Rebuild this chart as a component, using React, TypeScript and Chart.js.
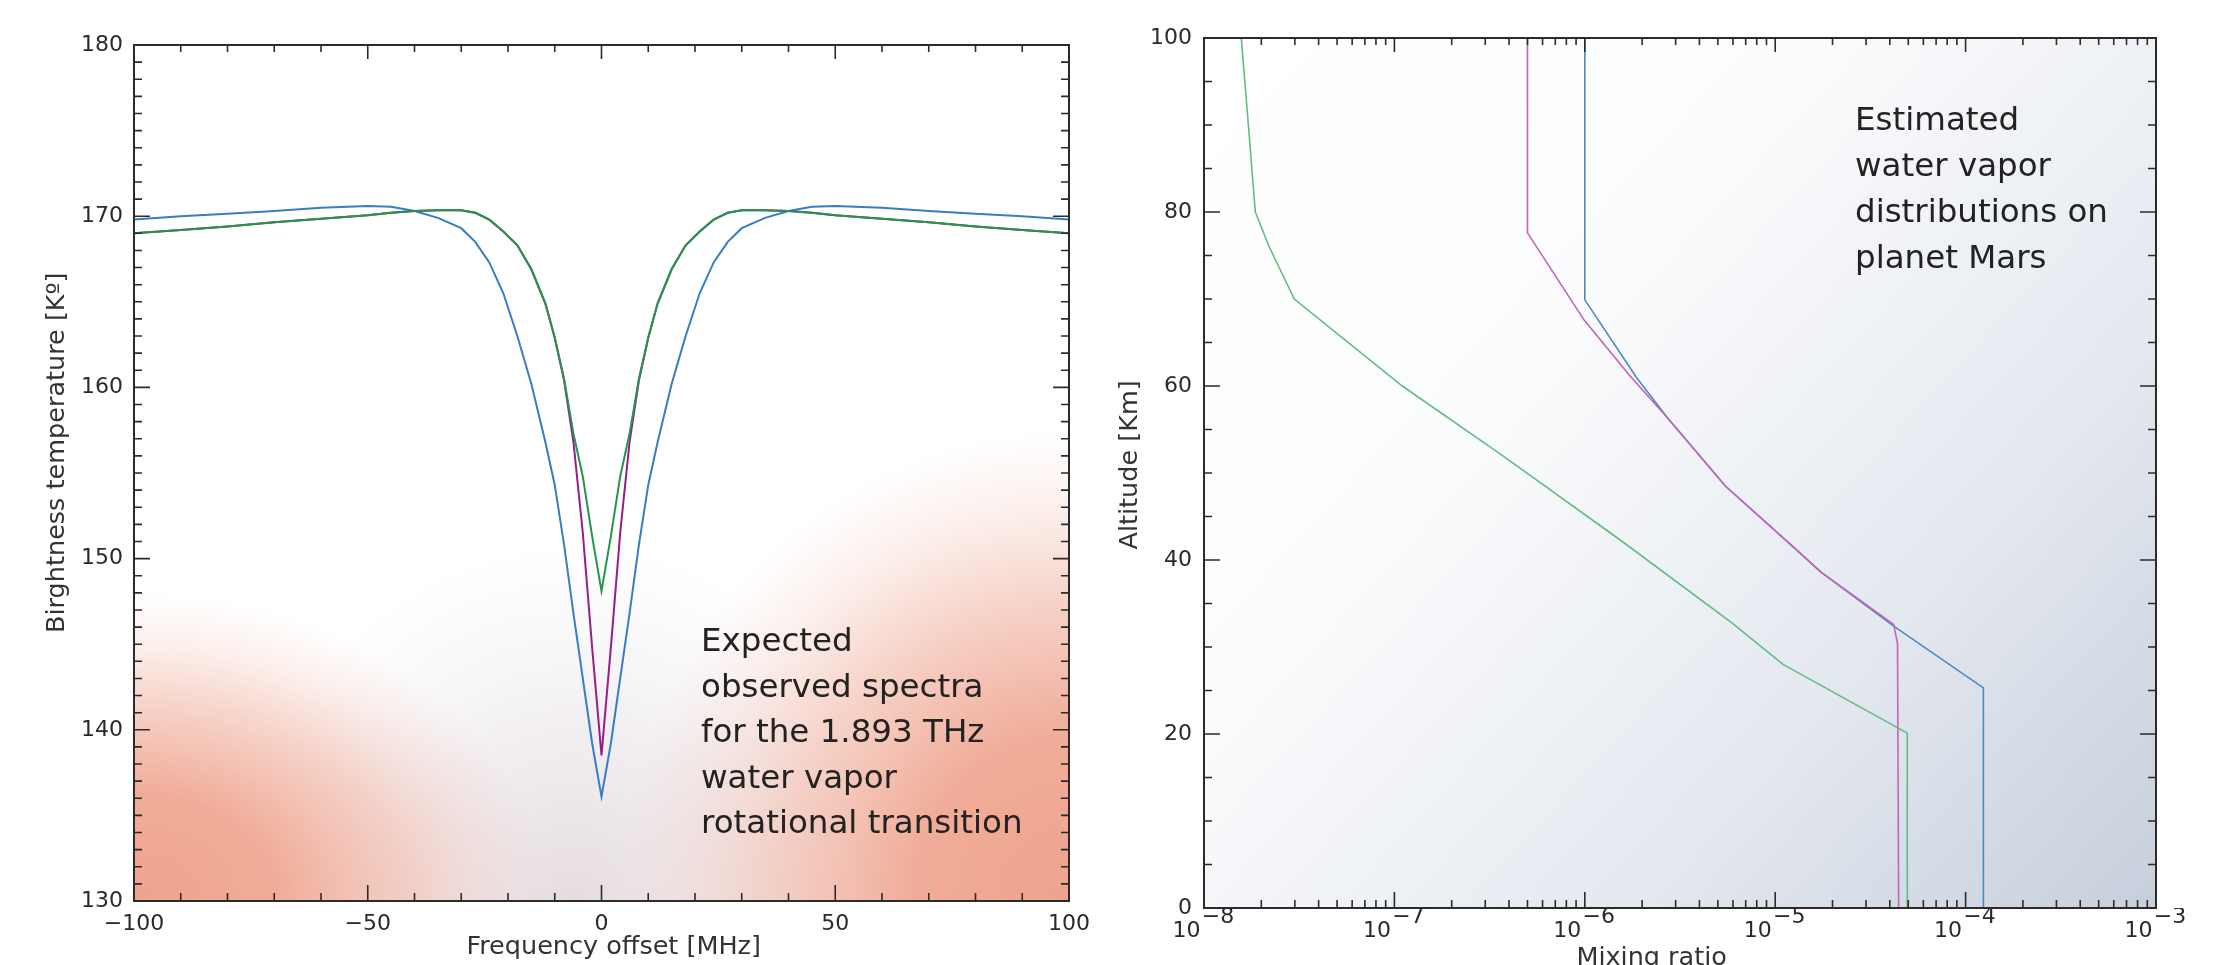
import React, { useEffect, useRef } from 'react';
import { Chart, registerables } from 'chart.js';

Chart.register(...registerables);

// ---------- Left panel: expected spectra ----------
const freqOffset = [-100, -90, -80, -70, -60, -50, -45, -40, -35, -30, -27, -24, -21, -18, -15, -12, -10, -8, -6, -4, -2, 0,
  2, 4, 6, 8, 10, 12, 15, 18, 21, 24, 27, 30, 35, 40, 45, 50, 60, 70, 80, 90, 100];
const tempBlue = [169.8, 170.0, 170.15, 170.3, 170.5, 170.6, 170.55, 170.3, 169.9, 169.3, 168.5, 167.3, 165.5, 163.0, 160.2, 156.8, 154.3, 150.8, 146.8, 143.0, 139.2, 136.1,
  139.2, 143.0, 146.8, 150.8, 154.3, 156.8, 160.2, 163.0, 165.5, 167.3, 168.5, 169.3, 169.9, 170.3, 170.55, 170.6, 170.5, 170.3, 170.15, 170.0, 169.8];
const tempMagenta = [169.0, 169.2, 169.4, 169.65, 169.85, 170.05, 170.2, 170.3, 170.35, 170.35, 170.2, 169.8, 169.1, 168.3, 166.9, 164.9, 162.9, 160.4, 156.8, 151.5, 144.8, 138.5,
  144.8, 151.5, 156.8, 160.4, 162.9, 164.9, 166.9, 168.3, 169.1, 169.8, 170.2, 170.35, 170.35, 170.3, 170.2, 170.05, 169.85, 169.65, 169.4, 169.2, 169.0];
const tempGreen = [169.0, 169.2, 169.4, 169.65, 169.85, 170.05, 170.2, 170.3, 170.35, 170.35, 170.2, 169.8, 169.1, 168.3, 166.9, 164.9, 162.9, 160.5, 157.3, 154.8, 151.3, 148.1,
  151.3, 154.8, 157.3, 160.5, 162.9, 164.9, 166.9, 168.3, 169.1, 169.8, 170.2, 170.35, 170.35, 170.3, 170.2, 170.05, 169.85, 169.65, 169.4, 169.2, 169.0];

const freqLabelValues = [-100, -50, 0, 50, 100];
const freqLabelText = ['−100', '−50', '0', '50', '100'];
const tempLabelValues = [130, 140, 150, 160, 170, 180];
const tempLabelText = ['130', '140', '150', '160', '170', '180'];

// ---------- Right panel: water vapor profiles ----------
const altGreen = [100, 90, 80, 76, 70, 60, 52, 42.1, 32.8, 28, 20.1, 0];
const mixGreen = [1.57e-8, 1.71e-8, 1.86e-8, 2.2e-8, 2.98e-8, 1.1e-7, 3.7e-7, 1.58e-6, 5.9e-6, 1.1e-5, 4.94e-5, 4.94e-5];
const altMagenta = [100, 77.6, 67.6, 61.2, 56.3, 48.5, 41.4, 38.6, 32.6, 30.4, 0];
const mixMagenta = [5.0e-7, 5.0e-7, 9.9e-7, 1.72e-6, 2.73e-6, 5.47e-6, 1.26e-5, 1.74e-5, 4.19e-5, 4.39e-5, 4.45e-5];
const altBlue = [100, 69.9, 60.9, 56.3, 48.5, 41.4, 38.6, 32.4, 25.3, 0];
const mixBlue = [1.0e-6, 1.0e-6, 1.88e-6, 2.73e-6, 5.47e-6, 1.26e-5, 1.74e-5, 4.19e-5, 1.24e-4, 1.24e-4];

const altLabelValues = [0, 20, 40, 60, 80, 100];
const altLabelText = ['0', '20', '40', '60', '80', '100'];
const mixDecades = [1e-8, 1e-7, 1e-6, 1e-5, 1e-4, 1e-3];
const mixDecadeExponent = ['−8', '−7', '−6', '−5', '−4', '−3'];

const annotationLeft = ['Expected', 'observed spectra', 'for the 1.893 THz', 'water vapor', 'rotational transition'];
const annotationRight = ['Estimated', 'water vapor', 'distributions on', 'planet Mars'];

const FONT = 'DejaVu Sans';
const TICK_COLOR = '#2a2a2a';

function linearTicks(min: number, max: number, step: number) {
  const out: { value: number }[] = [];
  for (let i = 0; min + i * step <= max + 1e-9; i++) out.push({ value: Math.round((min + i * step) * 1e6) / 1e6 });
  return out;
}

function logTicks() {
  const out: { value: number }[] = [];
  for (let d = 0; d < mixDecades.length - 1; d++) {
    for (let m = 1; m <= 9; m++) out.push({ value: m * mixDecades[d] });
  }
  out.push({ value: mixDecades[mixDecades.length - 1] });
  return out;
}

function labelFor(values: number[], texts: string[], v: number) {
  const i = values.findIndex((x) => Math.abs(x - v) < 1e-6);
  return i >= 0 ? texts[i] : '';
}

function makeFrame(isMajorX: (v: number) => boolean, isMajorY: (v: number) => boolean) {
  return {
    id: 'frameTicks',
    afterDatasetsDraw(chart: any) {
      const { ctx, chartArea: a, scales } = chart;
      const xs = scales.x;
      const ys = scales.y;
      ctx.save();
      ctx.strokeStyle = '#2b2b2b';
      ctx.lineWidth = 1.6;
      ctx.beginPath();
      for (const t of xs.ticks) {
        const p = xs.getPixelForValue(t.value);
        const major = isMajorX(t.value);
        const lb = major ? 16 : 8;
        const lt = major ? 14 : 7;
        ctx.moveTo(p, a.bottom);
        ctx.lineTo(p, a.bottom - lb);
        ctx.moveTo(p, a.top);
        ctx.lineTo(p, a.top + lt);
      }
      for (const t of ys.ticks) {
        const p = ys.getPixelForValue(t.value);
        const len = isMajorY(t.value) ? 16 : 8;
        ctx.moveTo(a.left, p);
        ctx.lineTo(a.left + len, p);
        ctx.moveTo(a.right, p);
        ctx.lineTo(a.right - len, p);
      }
      ctx.stroke();
      ctx.lineWidth = 2;
      ctx.strokeRect(a.left, a.top, a.right - a.left, a.bottom - a.top);
      ctx.restore();
    },
  };
}

function ellipseGlow(ctx: any, cx: number, cy: number, rx: number, ry: number, stops: [number, string][]) {
  ctx.save();
  ctx.translate(cx, cy);
  ctx.scale(rx, ry);
  const g = ctx.createRadialGradient(0, 0, 0, 0, 0, 1);
  for (const [o, c] of stops) g.addColorStop(o, c);
  ctx.fillStyle = g;
  ctx.fillRect(-1.2, -1.2, 2.4, 2.4);
  ctx.restore();
}

const peachStops: [number, string][] = [
  [0, 'rgba(239,163,141,1)'],
  [0.35, 'rgba(239,165,144,0.92)'],
  [0.65, 'rgba(239,170,150,0.5)'],
  [0.85, 'rgba(240,178,162,0.18)'],
  [1, 'rgba(240,182,168,0)'],
];

const leftBackground = {
  id: 'leftBackground',
  beforeDraw(chart: any) {
    const { ctx, chartArea } = chart;
    const { left, top, right, bottom } = chartArea;
    const width = right - left;
    const height = bottom - top;
    ctx.save();
    ctx.beginPath();
    ctx.rect(left, top, width, height);
    ctx.clip();
    ctx.fillStyle = '#ffffff';
    ctx.fillRect(left, top, width, height);
    // greyish tint around the bottom centre
    ellipseGlow(ctx, left + 0.47 * width, bottom, 0.36 * width, 0.42 * height, [
      [0, 'rgba(228,218,222,0.95)'],
      [0.5, 'rgba(234,228,232,0.6)'],
      [1, 'rgba(240,238,242,0)'],
    ]);
    // peach glow in the bottom-left corner
    ellipseGlow(ctx, left, bottom, 0.44 * width, 0.36 * height, peachStops);
    // peach glow in the bottom-right corner (reaches higher)
    ellipseGlow(ctx, right, bottom, 0.48 * width, 0.55 * height, peachStops);
    ctx.restore();
  },
};

const rightBackground = {
  id: 'rightBackground',
  beforeDraw(chart: any) {
    const { ctx, chartArea: a } = chart;
    ctx.save();
    const g = ctx.createLinearGradient(a.left, a.top, a.right, a.bottom);
    g.addColorStop(0, '#ffffff');
    g.addColorStop(0.35, '#fbfcfd');
    g.addColorStop(0.7, '#e4e8ef');
    g.addColorStop(1, '#c6cfdc');
    ctx.fillStyle = g;
    ctx.fillRect(a.left, a.top, a.right - a.left, a.bottom - a.top);
    ctx.restore();
  },
};

function lineDataset(label: string, xs: number[], ys: number[], color: string, width: number) {
  return {
    label,
    data: xs.map((x, i) => ({ x, y: ys[i] })),
    showLine: true,
    borderColor: color,
    backgroundColor: color,
    borderWidth: width,
    pointRadius: 0,
    fill: false,
    tension: 0,
  };
}

export default function App() {
  const leftRef = useRef<HTMLCanvasElement>(null);
  const rightRef = useRef<HTMLCanvasElement>(null);

  useEffect(() => {
    const tickFont = { family: FONT, size: 22 };
    const titleFont = { family: FONT, size: 25.5 };

    const left = new Chart(leftRef.current as HTMLCanvasElement, {
      type: 'scatter',
      data: {
        datasets: [
          lineDataset('green', freqOffset, tempGreen, 'rgb(35,150,75)', 2),
          lineDataset('magenta', freqOffset, tempMagenta, 'rgb(150,30,135)', 2),
          lineDataset('blue', freqOffset, tempBlue, 'rgb(55,125,195)', 2),
        ],
      },
      options: {
        responsive: false,
        animation: false,
        layout: { padding: { left: 0, top: 45, right: 31, bottom: 0 } },
        plugins: { legend: { display: false }, tooltip: { enabled: false } },
        scales: {
          x: {
            type: 'linear',
            position: 'bottom',
            min: -100,
            max: 100,
            afterBuildTicks: (s: any) => { s.ticks = linearTicks(-100, 100, 10); },
            afterFit: (s: any) => { s.height = 64; },
            grid: { display: false, drawTicks: false },
            border: { display: false },
            ticks: {
              autoSkip: false, maxRotation: 0, minRotation: 0, padding: 10, color: TICK_COLOR, font: tickFont,
              callback: (v: any) => labelFor(freqLabelValues, freqLabelText, Number(v)),
            },
            title: { display: true, text: '   Frequency offset [MHz]', color: '#333', font: titleFont, padding: { top: 0, bottom: 2.7 } },
          },
          y: {
            type: 'linear',
            position: 'left',
            min: 130,
            max: 180,
            afterBuildTicks: (s: any) => { s.ticks = linearTicks(130, 180, 1); },
            afterFit: (s: any) => { s.width = 134; },
            grid: { display: false, drawTicks: false },
            border: { display: false },
            ticks: {
              autoSkip: false, padding: 11, color: TICK_COLOR, font: tickFont,
              callback: (v: any) => labelFor(tempLabelValues, tempLabelText, Number(v)),
            },
            title: { display: true, text: '     Birghtness temperature [Kº]', color: '#333', font: titleFont, padding: { top: 41.7, bottom: 0 } },
          },
        },
      },
      plugins: [
        leftBackground,
        makeFrame((v) => Math.abs(v % 50) < 1e-6, (v) => Math.abs(v % 10) < 1e-6),
      ],
    } as any);

    const right = new Chart(rightRef.current as HTMLCanvasElement, {
      type: 'scatter',
      data: {
        datasets: [
          lineDataset('green', mixGreen, altGreen, 'rgb(95,190,130)', 1.6),
          lineDataset('magenta', mixMagenta, altMagenta, 'rgb(196,100,184)', 1.6),
          lineDataset('blue', mixBlue, altBlue, 'rgb(75,138,200)', 1.6),
        ],
      },
      options: {
        responsive: false,
        animation: false,
        layout: { padding: { left: 0, top: 38, right: 57, bottom: 0 } },
        plugins: { legend: { display: false }, tooltip: { enabled: false } },
        scales: {
          x: {
            type: 'logarithmic',
            position: 'bottom',
            min: 1e-8,
            max: 1e-3,
            afterBuildTicks: (s: any) => { s.ticks = logTicks(); },
            afterFit: (s: any) => { s.height = 57; },
            grid: { display: false, drawTicks: false },
            border: { display: false },
            ticks: {
              autoSkip: false, maxRotation: 0, minRotation: 0, padding: 2, color: TICK_COLOR,
              font: { family: FONT, size: 22, lineHeight: 0.65 },
              callback: (v: any) => {
                const i = mixDecades.findIndex((d) => Math.abs(Number(v) / d - 1) < 1e-6);
                return i >= 0 ? ['    ' + mixDecadeExponent[i], '10     '] : '';
              },
            },
            title: { display: true, text: 'Mixing ratio       ', color: '#333', font: titleFont, padding: { top: 0, bottom: -8.3 } },
          },
          y: {
            type: 'linear',
            position: 'left',
            min: 0,
            max: 100,
            afterBuildTicks: (s: any) => { s.ticks = linearTicks(0, 100, 5); },
            afterFit: (s: any) => { s.width = 104; },
            grid: { display: false, drawTicks: false },
            border: { display: false },
            ticks: {
              autoSkip: false, padding: 12, color: TICK_COLOR, font: tickFont,
              callback: (v: any) => labelFor(altLabelValues, altLabelText, Number(v)),
            },
            title: { display: true, text: '  Altitude [Km]', color: '#333', font: titleFont, padding: { top: 14.7, bottom: 0 } },
          },
        },
      },
      plugins: [
        rightBackground,
        makeFrame(
          (v) => Math.abs(Math.log10(v) - Math.round(Math.log10(v))) < 1e-6,
          (v) => Math.abs(v % 20) < 1e-6,
        ),
      ],
    } as any);

    return () => {
      left.destroy();
      right.destroy();
    };
  }, []);

  const noteStyle: React.CSSProperties = {
    position: 'absolute',
    fontFamily: FONT,
    fontSize: '32.5px',
    color: '#222',
    whiteSpace: 'pre',
    pointerEvents: 'none',
  };

  return (
    <div style={{ position: 'absolute', left: 0, top: 0, width: 2213, height: 965, background: '#ffffff', overflow: 'hidden' }}>
      <canvas ref={leftRef} width={1100} height={965} style={{ position: 'absolute', left: 0, top: 0, width: 1100, height: 965 }} />
      <canvas ref={rightRef} width={1113} height={965} style={{ position: 'absolute', left: 1100, top: 0, width: 1113, height: 965 }} />
      <div style={{ ...noteStyle, left: 701, top: 618, lineHeight: '45.5px' }}>
        {annotationLeft.map((t) => <div key={t}>{t}</div>)}
      </div>
      <div style={{ ...noteStyle, left: 1855, top: 96, lineHeight: '46px' }}>
        {annotationRight.map((t) => <div key={t}>{t}</div>)}
      </div>
    </div>
  );
}
